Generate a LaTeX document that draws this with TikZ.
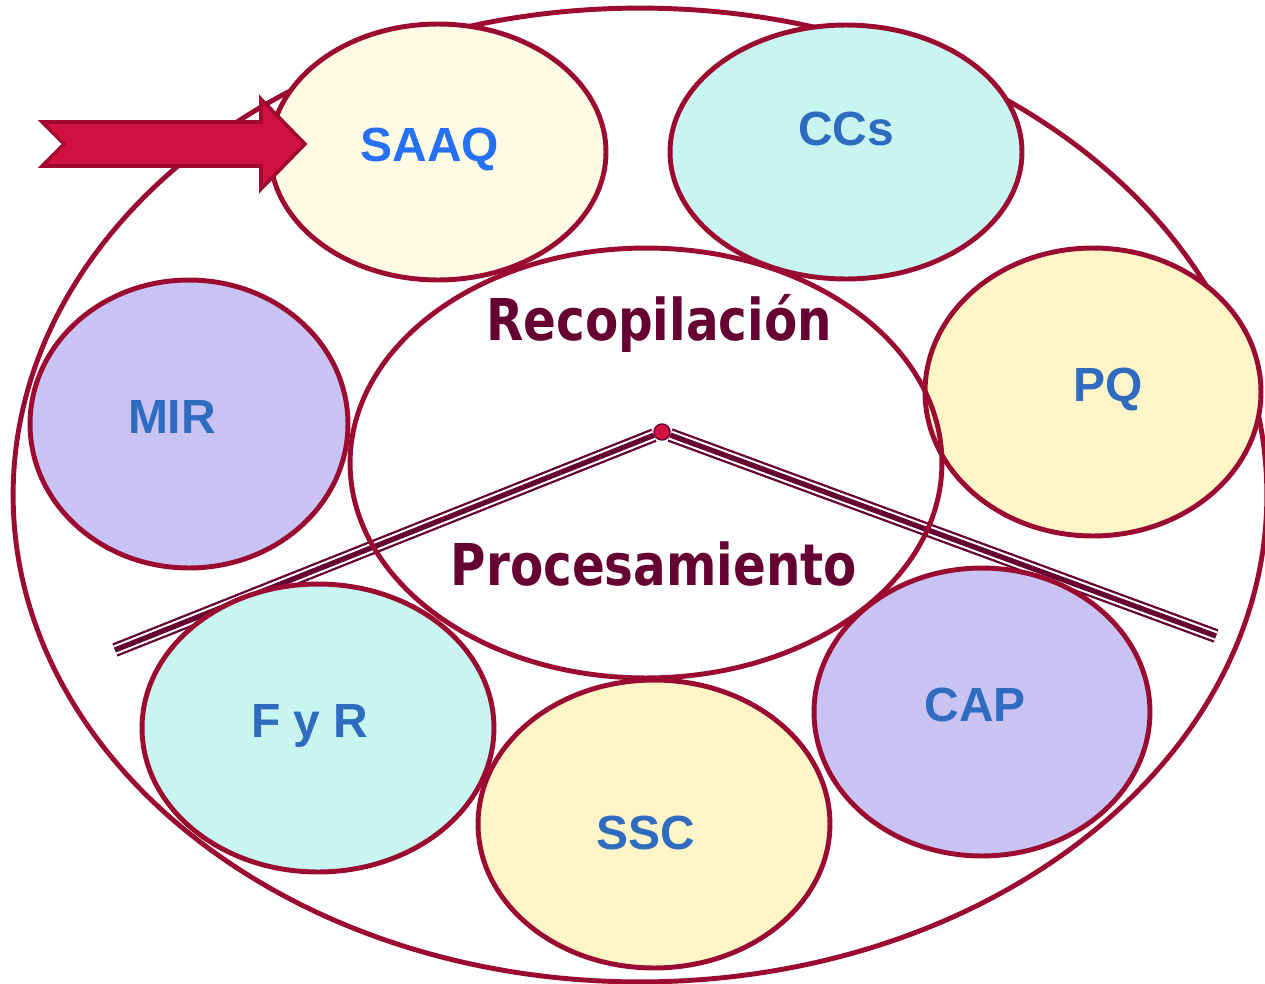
\documentclass[tikz,border=0pt]{standalone}
\usepackage{fontspec}
\setmainfont{Liberation Sans}
\newfontfamily\titlefont[FakeStretch=0.84]{DejaVu Sans}
\usepackage{xcolor}
\usepackage{tikz}
\usetikzlibrary{shapes.geometric}

\definecolor{rimred}{RGB}{155,10,48}
\definecolor{raildark}{RGB}{102,0,51}
\definecolor{arrowred}{RGB}{209,17,65}
\definecolor{arrowrim}{RGB}{160,10,48}
\definecolor{lblblue}{RGB}{47,108,191}
\definecolor{saaqblue}{RGB}{38,112,245}
\definecolor{creamfill}{RGB}{255,250,227}
\definecolor{aquafill}{RGB}{200,245,240}
\definecolor{lilacfill}{RGB}{200,195,242}
\definecolor{butterfill}{RGB}{255,245,200}

\begin{document}
\begin{tikzpicture}[x=0.02cm, y=-0.02cm,
    bubble/.style={draw=rimred, line width=2.8pt, ellipse, inner sep=0pt},
    lbl/.style={font=\fontsize{27.3}{30}\selectfont\bfseries, text=lblblue, anchor=base},
    title/.style={font=\titlefont\fontsize{32.8}{36}\selectfont\bfseries, text=raildark, anchor=base},
    rail/.style={draw=raildark, line width=8pt, postaction={draw=white, line width=5.4pt}, postaction={draw=raildark, line width=3pt}}]
    \useasboundingbox (0,0) rectangle (1265,984);

    % outer ring
    \node[bubble, minimum width=25.08cm, minimum height=19.48cm] (ring) at (640,495) {};

    % the two rails from the apex
    \node[circle, fill=arrowred, draw=raildark, line width=0.8pt, minimum size=0.32cm, inner sep=0pt] (apex) at (662,432) {};
    \coordinate (railL) at (115,650);
    \coordinate (railR) at (1216,636);
    \draw[rail] (apex) -- (railL);
    \draw[rail] (apex) -- (railR);

    % bubbles round the ring
    \node[bubble, fill=creamfill, minimum width=6.72cm, minimum height=5.12cm] (saaq) at (438,152) {};
    \node[bubble, fill=aquafill, minimum width=7.04cm, minimum height=5.08cm] (ccs) at (846,152) {};
    \node[bubble, fill=lilacfill, minimum width=6.36cm, minimum height=5.76cm] (mir) at (189,424) {};
    \node[bubble, fill=butterfill, minimum width=6.72cm, minimum height=5.76cm] (pq) at (1093,392) {};
    \node[bubble, fill=aquafill, minimum width=7.04cm, minimum height=5.76cm] (fyr) at (318,728) {};
    \node[bubble, fill=butterfill, minimum width=7.04cm, minimum height=5.76cm] (ssc) at (654,824) {};
    \node[bubble, fill=lilacfill, minimum width=6.72cm, minimum height=5.76cm] (cap) at (982,712) {};

    % centre
    \node[bubble, minimum width=11.84cm, minimum height=8.6cm] (core) at (646,463) {};

    % texts
    \node[lbl, text=saaqblue] (saaqtext) at (430,161) {SAAQ};
    \node[lbl] (ccstext) at (846,145) {CCs};
    \node[lbl] (mirtext) at (172,433) {MIR};
    \node[lbl] (pqtext) at (1108,401) {PQ};
    \node[lbl] (fyrtext) at (310,737) {F y R};
    \node[lbl] (ssctext) at (646,849) {SSC};
    \node[lbl] (captext) at (975,721) {CAP};
    \node[title] (recop) at (659,340) {Recopilación};
    \node[title] (proces) at (654,585) {Procesamiento};

    % pointer arrow
    \filldraw[fill=arrowred, draw=arrowrim, line width=2pt] (42,122) -- (64,144) -- (42,166) -- (261,166) -- (261,189) -- (305,144) -- (261,99) -- (261,122) -- cycle;
\end{tikzpicture}
\end{document}
